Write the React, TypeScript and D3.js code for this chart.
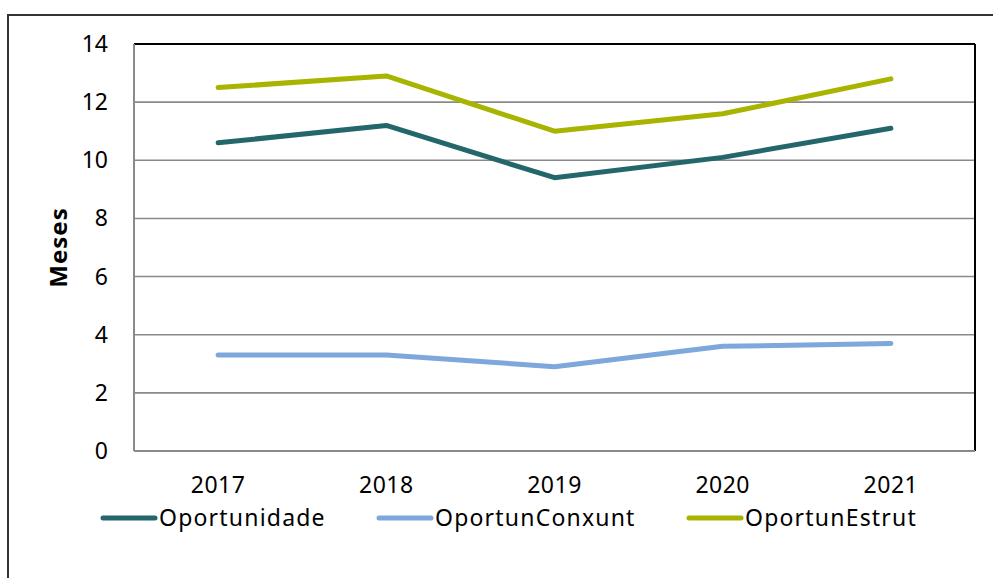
import React from "react";
import * as d3 from "d3";

const years = ["2017", "2018", "2019", "2020", "2021"];
const oportunidade = [10.6, 11.2, 9.4, 10.1, 11.1];
const oportunConxunt = [3.3, 3.3, 2.9, 3.6, 3.7];
const oportunEstrut = [12.5, 12.9, 11.0, 11.6, 12.8];
const yTicks = [0, 2, 4, 6, 8, 10, 12, 14];

const seriesNames = ["Oportunidade", "OportunConxunt", "OportunEstrut"];
const seriesColors = ["#24676b", "#7ea7dc", "#a8b400"];
const seriesValues = [oportunidade, oportunConxunt, oportunEstrut];

const W = 993;
const H = 578;
const left = 134;
const right = 975;
const top = 44;
const bottom = 451;
const font = "'Noto Sans', sans-serif";

export default function App() {
  const x = d3.scaleBand<string>().domain(years).range([left, right]);
  const y = d3.scaleLinear().domain([0, 14]).range([bottom, top]);
  const line = d3
    .line<number>()
    .x((_, i) => (x(years[i]) as number) + x.bandwidth() / 2)
    .y((d) => y(d));

  const legendX = [101, 377, 687];

  return (
    <svg
      width={W}
      height={H}
      style={{ position: "absolute", left: 0, top: 0, background: "#fff" }}
      fontFamily={font}
    >
      <rect x={8} y={15} width={1100} height={700} fill="#fff" stroke="#333" strokeWidth={2} />
      {yTicks.slice(1, -1).map((t) => (
        <line key={t} x1={left} x2={right} y1={y(t)} y2={y(t)} stroke="#8a8a8a" strokeWidth={1.6} />
      ))}
      <line x1={left} x2={right} y1={top} y2={top} stroke="#000" strokeWidth={2} />
      <line x1={right} x2={right} y1={top} y2={bottom} stroke="#000" strokeWidth={2} />
      <line x1={left} x2={left} y1={top} y2={bottom} stroke="#8a8a8a" strokeWidth={2} />
      <line x1={left} x2={right} y1={bottom} y2={bottom} stroke="#8a8a8a" strokeWidth={2} />
      {yTicks.map((t) => (
        <text key={t} x={108} y={y(t) + 8} textAnchor="end" fontSize={23} fill="#000">
          {t}
        </text>
      ))}
      {years.map((yr) => (
        <text
          key={yr}
          x={(x(yr) as number) + x.bandwidth() / 2}
          y={493}
          textAnchor="middle"
          fontSize={23}
          letterSpacing={0.5}
          fill="#000"
        >
          {yr}
        </text>
      ))}
      <text
        transform={`translate(67,${(top + bottom) / 2}) rotate(-90)`}
        textAnchor="middle"
        fontSize={24}
        fontWeight="bold"
        letterSpacing={1}
        fill="#000"
      >
        Meses
      </text>
      {seriesValues.map((vals, i) => (
        <path
          key={seriesNames[i]}
          d={line(vals) || ""}
          fill="none"
          stroke={seriesColors[i]}
          strokeWidth={5}
          strokeLinecap="round"
          strokeLinejoin="round"
        />
      ))}
      {seriesNames.map((n, i) => (
        <g key={n}>
          <line
            x1={legendX[i] + 2}
            x2={legendX[i] + 54}
            y1={518}
            y2={518}
            stroke={seriesColors[i]}
            strokeWidth={5}
            strokeLinecap="round"
          />
          <text x={legendX[i] + 58} y={526} fontSize={23} letterSpacing={1.2} fill="#000">
            {n}
          </text>
        </g>
      ))}
    </svg>
  );
}
